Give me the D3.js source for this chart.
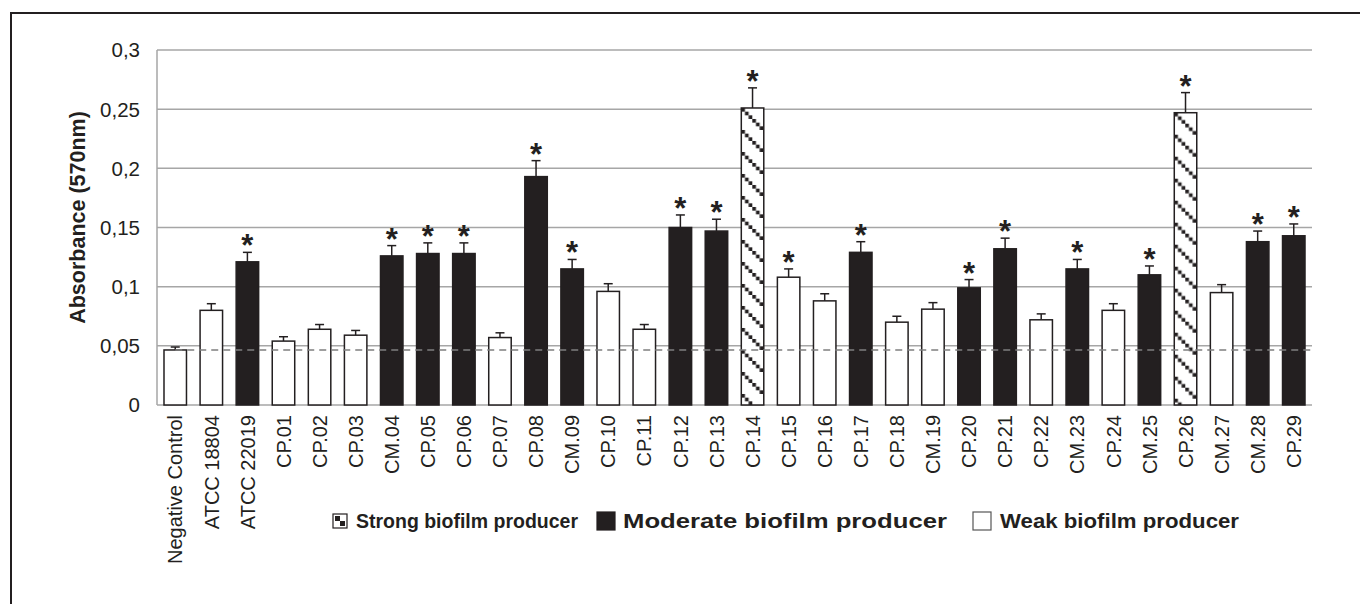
<!DOCTYPE html>
<html>
<head>
<meta charset="utf-8">
<script src="https://cdn.jsdelivr.net/npm/d3@7"></script>
<style>
  body { margin: 0; background: #fff; }
  svg { display: block; font-family: "Liberation Sans", Arial, sans-serif; }
</style>
</head>
<body>
<svg id="chart" width="1360" height="604"></svg>
<script>
// strains on the x axis
const categories = ["Negative Control", "ATCC 18804", "ATCC 22019", "CP.01", "CP.02", "CP.03", "CM.04", "CP.05", "CP.06", "CP.07",
  "CP.08", "CM.09", "CP.10", "CP.11", "CP.12", "CP.13", "CP.14", "CP.15", "CP.16", "CP.17",
  "CP.18", "CM.19", "CP.20", "CP.21", "CP.22", "CM.23", "CP.24", "CM.25", "CP.26", "CM.27", "CM.28", "CP.29"];
// absorbance means (570nm)
const values = [0.0465, 0.080, 0.121, 0.054, 0.064, 0.059, 0.126, 0.128, 0.128, 0.057,
  0.193, 0.115, 0.096, 0.064, 0.150, 0.147, 0.251, 0.108, 0.088, 0.129,
  0.070, 0.081, 0.099, 0.132, 0.072, 0.115, 0.080, 0.110, 0.247, 0.095, 0.138, 0.143];
// top of error bars
const errTops = [0.049, 0.0856, 0.129, 0.0577, 0.068, 0.063, 0.1347, 0.137, 0.137, 0.061,
  0.2065, 0.123, 0.1025, 0.068, 0.1606, 0.157, 0.268, 0.115, 0.094, 0.138,
  0.075, 0.0865, 0.106, 0.141, 0.077, 0.123, 0.0856, 0.1175, 0.264, 0.1017, 0.147, 0.153];
// producer class: S strong, M moderate, W weak
const groups = ["W", "W", "M", "W", "W", "W", "M", "M", "M", "W",
  "M", "M", "W", "W", "M", "M", "S", "W", "W", "M",
  "W", "W", "M", "M", "W", "M", "W", "M", "S", "W", "M", "M"];
const starred = [0, 0, 1, 0, 0, 0, 1, 1, 1, 0,
  1, 1, 0, 0, 1, 1, 1, 1, 0, 1,
  0, 0, 1, 1, 0, 1, 0, 1, 1, 0, 1, 1];
const cutoff = 0.0465;
const yTicks = [0, 0.05, 0.1, 0.15, 0.2, 0.25, 0.3];
const legendItems = [
  {key: "S", label: "Strong biofilm producer"},
  {key: "M", label: "Moderate biofilm producer"},
  {key: "W", label: "Weak biofilm producer"}
];

const data = categories.map((c, i) => ({name: c, value: values[i], err: errTops[i], group: groups[i], star: starred[i]}));

const svg = d3.select("#chart");
const dark = "#231f20";
const grid = "#a6a6a6";

const pLeft = 157, pRight = 1312, pTop = 50, pBottom = 405;

const x = d3.scaleBand().domain(categories).range([pLeft, pRight]).paddingInner(0.377).paddingOuter(0.194);
const y = d3.scaleLinear().domain([0, 0.3]).range([pBottom, pTop]);

const locale = d3.formatLocale({decimal: ",", thousands: ".", grouping: [3], currency: ["", ""]});
const fmt = locale.format("~g");

// outer frame
svg.append("rect")
  .attr("x", 11).attr("y", 13).attr("width", 1360).attr("height", 600)
  .attr("fill", "none").attr("stroke", dark).attr("stroke-width", 2);

const defs = svg.append("defs");

// diagonal checker used for strong producers
function addPattern(id, x0, y0) {
  const n = 6, tile = 22, step = tile / n;
  const p = defs.append("pattern")
    .attr("id", id)
    .attr("patternUnits", "userSpaceOnUse")
    .attr("x", x0).attr("y", y0)
    .attr("width", tile).attr("height", tile);
  p.append("rect").attr("width", tile).attr("height", tile).attr("fill", "#fff");
  for (let k = 0; k < n; k++) {
    p.append("rect").attr("x", k * step).attr("y", k * step).attr("width", step).attr("height", step).attr("fill", dark);
  }
}

function fillFor(d, i) {
  if (d.group === "S") return `url(#pat${i})`;
  return d.group === "M" ? dark : "#fff";
}

// gridlines
svg.append("g")
  .selectAll("line")
  .data(yTicks)
  .join("line")
  .attr("x1", pLeft).attr("x2", pRight)
  .attr("y1", d => y(d)).attr("y2", d => y(d))
  .attr("stroke", grid).attr("stroke-width", 1.5);

svg.append("line")
  .attr("x1", pLeft).attr("x2", pLeft).attr("y1", pTop).attr("y2", pBottom)
  .attr("stroke", grid).attr("stroke-width", 1.5);

// y tick labels
svg.append("g")
  .selectAll("text")
  .data(yTicks)
  .join("text")
  .attr("x", 140)
  .attr("y", d => y(d))
  .attr("dy", "0.36em")
  .attr("text-anchor", "end")
  .attr("font-size", 20.5)
  .attr("fill", dark)
  .text(d => fmt(d));

svg.append("text")
  .attr("transform", `translate(85,${(pTop + pBottom) / 2 - 10}) rotate(-90)`)
  .attr("text-anchor", "middle")
  .attr("font-size", 21.5)
  .attr("font-weight", "bold")
  .attr("fill", dark)
  .text("Absorbance (570nm)");

data.forEach((d, i) => { if (d.group === "S") addPattern("pat" + i, x(d.name), y(d.value)); });

const bw = x.bandwidth();

// error bars
const eb = svg.append("g").attr("stroke", dark).attr("stroke-width", 1.5);
eb.selectAll("line.v")
  .data(data)
  .join("line")
  .attr("class", "v")
  .attr("x1", d => x(d.name) + bw / 2).attr("x2", d => x(d.name) + bw / 2)
  .attr("y1", d => y(d.value)).attr("y2", d => y(d.err));
eb.selectAll("line.c")
  .data(data)
  .join("line")
  .attr("class", "c")
  .attr("x1", d => x(d.name) + bw / 2 - 4.5).attr("x2", d => x(d.name) + bw / 2 + 4.5)
  .attr("y1", d => y(d.err)).attr("y2", d => y(d.err));

// bars
svg.append("g")
  .selectAll("rect")
  .data(data)
  .join("rect")
  .attr("x", d => x(d.name))
  .attr("y", d => y(d.value))
  .attr("width", bw)
  .attr("height", d => y(0) - y(d.value))
  .attr("fill", fillFor)
  .attr("stroke", dark)
  .attr("stroke-width", 1.5);

// cutoff line
svg.append("line")
  .attr("x1", x(categories[0]) + bw / 2).attr("x2", pRight)
  .attr("y1", y(cutoff)).attr("y2", y(cutoff))
  .attr("stroke", "#7f7f7f").attr("stroke-width", 1.5)
  .attr("stroke-dasharray", "7,5");

// significance stars
svg.append("g")
  .selectAll("text")
  .data(data.filter(d => d.star))
  .join("text")
  .attr("x", d => x(d.name) + bw / 2)
  .attr("y", d => y(d.err) + 4)
  .attr("text-anchor", "middle")
  .attr("font-size", 31)
  .attr("font-weight", "bold")
  .attr("fill", dark)
  .text("*");

// x labels
svg.append("g")
  .selectAll("text")
  .data(categories)
  .join("text")
  .attr("transform", d => `translate(${x(d) + bw / 2},415) rotate(-90)`)
  .attr("dy", "0.36em")
  .attr("text-anchor", "end")
  .attr("font-size", 20)
  .attr("fill", dark)
  .text(d => d);

// legend swatch pattern
const lp = defs.append("pattern")
  .attr("id", "patLegend")
  .attr("patternUnits", "userSpaceOnUse")
  .attr("x", 333).attr("y", 514)
  .attr("width", 14).attr("height", 14);
lp.append("rect").attr("width", 14).attr("height", 14).attr("fill", "#fff");
lp.append("rect").attr("x", 2).attr("y", 2).attr("width", 5).attr("height", 5).attr("fill", dark);
lp.append("rect").attr("x", 7).attr("y", 7).attr("width", 5).attr("height", 5).attr("fill", dark);

const legendX = {S: 333, M: 597, W: 973};
const legendTextX = {S: 356, M: 623, W: 1000};
const legendTextLen = {S: 222, M: 324, W: 239};
const legendSize = {S: 14, M: 18, W: 18};
const lg = svg.append("g");
legendItems.forEach(it => {
  const s = legendSize[it.key];
  lg.append("rect")
    .attr("x", legendX[it.key]).attr("y", 521 - s / 2)
    .attr("width", s).attr("height", s)
    .attr("fill", it.key === "S" ? "url(#patLegend)" : it.key === "M" ? dark : "#fff")
    .attr("stroke", it.key === "W" ? "#555" : dark).attr("stroke-width", 1.2);
  lg.append("text")
    .attr("x", legendTextX[it.key]).attr("y", 521)
    .attr("dy", "0.36em")
    .attr("font-size", 20.5)
    .attr("font-weight", "bold")
    .attr("fill", dark)
    .attr("textLength", legendTextLen[it.key])
    .attr("lengthAdjust", "spacingAndGlyphs")
    .text(it.label);
});
</script>
</body>
</html>
